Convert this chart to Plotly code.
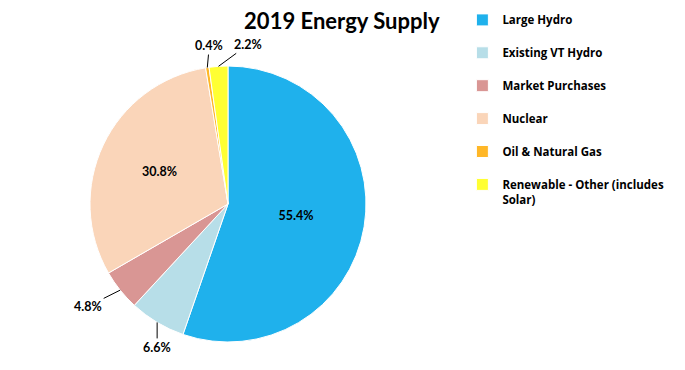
import math
import plotly.graph_objects as go

labels = ["Large Hydro", "Existing VT Hydro", "Market Purchases", "Nuclear",
          "Oil & Natural Gas", "Renewable - Other (includes<br>Solar)"]
values = [55.4, 6.6, 4.8, 30.8, 0.4, 2.2]
colors = ["#1FB1EC", "#B7DEE8", "#D99694", "#FAD5B9", "#FFB727", "#FFFF33"]
inside = [True, False, False, True, False, False]
# label offsets (px) for slices whose labels sit outside with a leader line
label_offsets = {1: (0, 25), 2: (-32, 16), 4: (2, -22), 5: (30, -22)}

W, H = 685, 370
CX, CY, R = 228, 204, 138  # pie centre / radius in px

legend_labels = [l if "<br>" in l else l + "<br>\u00a0" for l in labels]

FONT = "Lato"
LFONT = "Open Sans"

dom_x = [(CX - R) / W, (CX + R) / W]
dom_y = [1 - (CY + R) / H, 1 - (CY - R) / H]

fig = go.Figure(go.Pie(
    labels=legend_labels,
    values=values,
    sort=False,
    direction="clockwise",
    rotation=0,
    marker=dict(colors=colors, line=dict(color="white", width=1)),
    texttemplate="%{value:.1f}%",
    textposition=["inside" if f else "none" for f in inside],
    insidetextorientation="horizontal",
    textfont=dict(family=FONT, size=12.5, color="black", weight="bold"),
    domain=dict(x=dom_x, y=dom_y),
    hoverinfo="label+value",
))

total = sum(values)
cum = 0.0
annotations = []
for i, v in enumerate(values):
    mid = (cum + v / 2) / total
    cum += v
    if inside[i]:
        continue
    th = 2 * math.pi * mid
    px = CX + R * math.sin(th)
    py = CY - R * math.cos(th)
    ax, ay = label_offsets[i]
    annotations.append(dict(
        x=px / W, y=1 - py / H, xref="paper", yref="paper",
        text="<b>%.1f%%</b>" % v, showarrow=True, arrowhead=0,
        arrowwidth=1, arrowcolor="black", ax=ax, ay=ay, standoff=0,
        font=dict(family=FONT, size=12.5, color="black"),
    ))

fig.update_layout(
    width=W, height=H,
    margin=dict(l=0, r=0, t=0, b=0),
    paper_bgcolor="white",
    plot_bgcolor="white",
    title=dict(text="<b>2019 Energy Supply</b>", x=0.499, xanchor="center",
               y=0.943, yanchor="middle",
               font=dict(family=FONT, size=22, color="black")),
    legend=dict(x=0.675, xanchor="left", y=0.984, yanchor="top",
                valign="top", traceorder="normal",
                font=dict(family=LFONT, size=11.5, color="black", weight="bold"),
                itemclick=False),
    annotations=annotations,
    font=dict(family=FONT),
)

fig.write_html("out.html", config={"displayModeBar": False},
               post_script="document.body.style.margin='0';")
